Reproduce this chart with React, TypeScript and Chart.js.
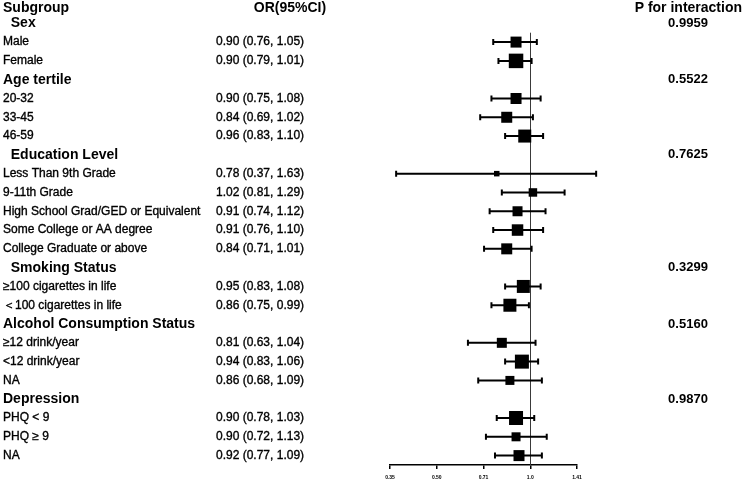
import React, { useEffect, useRef } from "react";
import { Chart, registerables } from "chart.js";

Chart.register(...registerables);

// ---- data ----
const rowLabels: string[] = [
  "Subgroup",
  "  Sex",
  "Male",
  "Female",
  "Age tertile",
  "20-32",
  "33-45",
  "46-59",
  "  Education Level",
  "Less Than 9th Grade",
  "9-11th Grade",
  "High School Grad/GED or Equivalent",
  "Some College or AA degree",
  "College Graduate or above",
  "  Smoking Status",
  "≥100 cigarettes in life",
  "＜100 cigarettes in life",
  "Alcohol Consumption Status",
  "≥12 drink/year",
  "<12 drink/year",
  "NA",
  "Depression",
  "PHQ < 9",
  "PHQ ≥ 9",
  "NA",
];

const isGroupRow: boolean[] = [
  true, true, false, false, true, false, false, false, true, false, false, false, false,
  false, true, false, false, true, false, false, false, true, false, false, false,
];

const orValues: (number | null)[] = [
  null, null, 0.9, 0.9, null, 0.9, 0.84, 0.96, null, 0.78, 1.02, 0.91, 0.91, 0.84,
  null, 0.95, 0.86, null, 0.81, 0.94, 0.86, null, 0.9, 0.9, 0.92,
];

const lowerCI: (number | null)[] = [
  null, null, 0.76, 0.79, null, 0.75, 0.69, 0.83, null, 0.37, 0.81, 0.74, 0.76, 0.71,
  null, 0.83, 0.75, null, 0.63, 0.83, 0.68, null, 0.78, 0.72, 0.77,
];

const upperCI: (number | null)[] = [
  null, null, 1.05, 1.01, null, 1.08, 1.02, 1.1, null, 1.63, 1.29, 1.12, 1.1, 1.01,
  null, 1.08, 0.99, null, 1.04, 1.06, 1.09, null, 1.03, 1.13, 1.09,
];

// relative study weights (drawn as box size)
const weights: (number | null)[] = [
  null, null, 11, 14.5, null, 11, 11, 13, null, 5.5, 8.5, 10, 11.5, 11,
  null, 13, 13, null, 10, 14, 9, null, 14, 9, 11,
];

const pInteraction: (string | null)[] = [
  null, "0.9959", null, null, "0.5522", null, null, null, "0.7625", null, null, null, null,
  null, "0.3299", null, null, "0.5160", null, null, null, "0.9870", null, null, null,
];

const xTickValues: number[] = [0.35355, 0.5, 0.70711, 1.0, 1.41421];
const xTickLabels: string[] = ["0.35", "0.50", "0.71", "1.0", "1.41"];

const FONT = "'Liberation Sans', Arial, sans-serif";

const fmt = (v: number) => v.toFixed(2);

const forestPlugin = {
  id: "forestPlugin",
  beforeDatasetsDraw(chart: any) {
    const { ctx, scales, chartArea } = chart;
    const x = scales.x;
    const y = scales.y;
    ctx.save();
    // reference line at OR = 1
    const x1 = Math.round(x.getPixelForValue(1)) + 0.5;
    ctx.strokeStyle = "#3a3a3a";
    ctx.lineWidth = 1;
    ctx.beginPath();
    ctx.moveTo(x1, y.getPixelForValue(1.5));
    ctx.lineTo(x1, chartArea.bottom);
    ctx.stroke();
    // whiskers
    ctx.strokeStyle = "#000";
    ctx.lineWidth = 2;
    rowLabels.forEach((_, i) => {
      const lo = lowerCI[i];
      const hi = upperCI[i];
      if (lo == null || hi == null) return;
      const yy = y.getPixelForValue(i);
      const xl = x.getPixelForValue(lo);
      const xh = x.getPixelForValue(hi);
      ctx.beginPath();
      ctx.moveTo(xl, yy);
      ctx.lineTo(xh, yy);
      ctx.moveTo(xl, yy - 3);
      ctx.lineTo(xl, yy + 3);
      ctx.moveTo(xh, yy - 3);
      ctx.lineTo(xh, yy + 3);
      ctx.stroke();
    });
    ctx.restore();
  },
  afterDraw(chart: any) {
    const { ctx, scales } = chart;
    const y = scales.y;
    ctx.save();
    ctx.fillStyle = "#000";
    ctx.strokeStyle = "#000";
    ctx.textBaseline = "middle";
    const itemText = (t: string, tx: number, ty: number) => {
      ctx.lineWidth = 0.35;
      ctx.fillText(t, tx, ty);
      ctx.strokeText(t, tx, ty);
    };
    rowLabels.forEach((label, i) => {
      const yy = i === 0 ? y.getPixelForValue(0) + 4 : y.getPixelForValue(i);
      if (i === 0) {
        ctx.font = `bold 14px ${FONT}`;
        ctx.textAlign = "left";
        ctx.fillText(label, 3, yy);
        ctx.textAlign = "center";
        ctx.fillText("OR(95%CI)", 290, yy);
        ctx.textAlign = "right";
        ctx.fillText("P for interaction", 742, yy);
        return;
      }
      if (isGroupRow[i]) {
        ctx.font = `bold 14px ${FONT}`;
        ctx.textAlign = "left";
        ctx.fillText(label, 3, yy);
      } else {
        ctx.font = `12px ${FONT}`;
        ctx.textAlign = "left";
        itemText(label, 3, yy);
        const o = orValues[i];
        const lo = lowerCI[i];
        const hi = upperCI[i];
        if (o != null && lo != null && hi != null) {
          itemText(`${fmt(o)} (${fmt(lo)}, ${fmt(hi)})`, 216, yy);
        }
      }
      const p = pInteraction[i];
      if (p) {
        ctx.font = `bold 13px ${FONT}`;
        ctx.textAlign = "center";
        ctx.fillText(p, 688, yy);
      }
    });
    ctx.restore();
  },
};

export default function App() {
  const canvasRef = useRef<HTMLCanvasElement | null>(null);

  useEffect(() => {
    document.body.style.margin = "0";
    const canvas = canvasRef.current;
    if (!canvas) return;
    const points: any[] = [];
    const radii: number[] = [];
    rowLabels.forEach((_, i) => {
      const o = orValues[i];
      const w = weights[i];
      if (o != null && w != null) {
        points.push({ x: o, y: i });
        radii.push(w / Math.SQRT2);
      }
    });
    const chart = new Chart(canvas, {
      type: "scatter",
      data: {
        datasets: [
          {
            data: points,
            pointStyle: "rect",
            pointRadius: radii,
            pointHoverRadius: radii,
            backgroundColor: "#000",
            borderColor: "#000",
            borderWidth: 0,
            clip: false,
          },
        ],
      },
      options: {
        animation: false,
        responsive: false,
        maintainAspectRatio: false,
        events: [],
        layout: { autoPadding: false, padding: { left: 390, right: 167, top: 4.5, bottom: -6 } },
        plugins: {
          legend: { display: false },
          tooltip: { enabled: false },
          title: { display: false },
        },
        scales: {
          x: {
            type: "logarithmic",
            position: "bottom",
            min: xTickValues[0],
            max: xTickValues[xTickValues.length - 1],
            afterBuildTicks: (scale: any) => {
              scale.ticks = xTickValues.map((v) => ({ value: v }));
            },
            ticks: {
              autoSkip: false,
              maxRotation: 0,
              padding: 6,
              color: "#000",
              font: { size: 5, weight: "bold", family: FONT, lineHeight: 1.2 },
              callback: (_v: any, idx: number) => xTickLabels[idx],
            },
            grid: {
              drawOnChartArea: false,
              drawTicks: true,
              tickLength: 4,
              color: "#000",
              lineWidth: 1.5,
            },
            border: { display: true, color: "#000", width: 1.5 },
          },
          y: {
            type: "linear",
            display: false,
            reverse: true,
            min: 0,
            max: 24.5,
          },
        },
      },
      plugins: [forestPlugin],
    });
    return () => chart.destroy();
  }, []);

  return (
    <div style={{ width: 744, height: 481 }}>
      <canvas ref={canvasRef} width={744} height={481} style={{ display: "block" }} />
    </div>
  );
}
